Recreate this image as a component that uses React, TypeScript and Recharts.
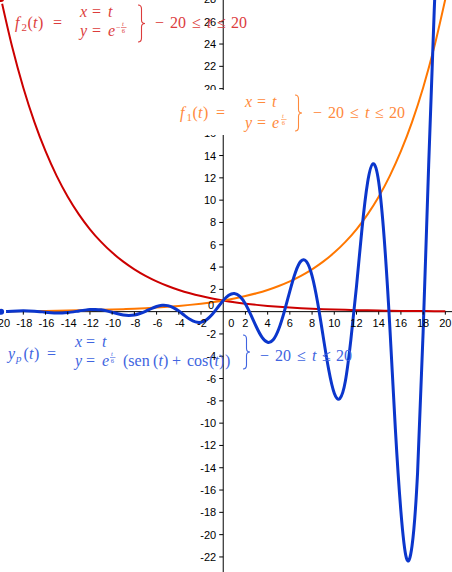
import React from 'react';
import { LineChart, Line, XAxis, YAxis, ReferenceLine, ReferenceDot } from 'recharts';

// parameter samples (t) and values
const tFine = [
  -20, -19.5, -19, -18.5, -18, -17.5, -17, -16.5, -16, -15.5, -15, -14.5, -14, -13.5, -13, -12.5, -12, -11.5, -11, -10.5,
  -10, -9.5, -9, -8.5, -8, -7.5, -7, -6.5, -6, -5.5, -5, -4.5, -4, -3.5, -3, -2.5, -2, -1.5, -1, -0.5,
  0, 0.5, 1, 1.5, 2, 2.5, 3, 3.5, 4, 4.5, 5, 5.5, 6, 6.5, 7, 7.5, 8, 8.5, 9, 9.5,
  10, 10.5, 11, 11.5, 12, 12.5, 13, 13.5, 14, 14.5, 15, 15.5, 16, 16.5, 17, 17.5, 18, 18.5, 19, 19.5, 20,
];
const ypValues = [
  -0.02, 0.01, 0.04, 0.06, 0.07, 0.06, 0.04, 0.0, -0.05, -0.09, -0.12, -0.12, -0.08, -0.02, 0.06, 0.13, 0.19, 0.2, 0.16, 0.07,
  -0.06, -0.19, -0.3, -0.34, -0.3, -0.17, 0.03, 0.26, 0.46, 0.57, 0.54, 0.36, 0.05, -0.33, -0.69, -0.92, -0.95, -0.72, -0.26, 0.37,
  1.0, 1.47, 1.63, 1.37, 0.69, -0.31, -1.4, -2.31, -2.75, -2.52, -1.55, 0.01, 1.85, 3.52, 4.53, 4.48, 3.2, 0.81, -2.24, -5.22,
  -7.32, -7.8, -6.23, -2.47, 2.27, 7.48, 11.59, 13.27, 11.63, 6.5, -1.33, -10.52, -17.93, -22.12, -21.02, -14.46, -1.82, 13.16, 27.02, 36.14, 37.03,
];
const tCoarse = [
  -20, -19, -18, -17, -16, -15, -14, -13, -12, -11, -10, -9, -8, -7, -6, -5, -4, -3, -2, -1,
  0, 1, 2, 3, 4, 5, 6, 7, 8, 9, 10, 11, 12, 13, 14, 15, 16, 17, 18, 19, 20,
];
const f1Values = [
  0.036, 0.042, 0.05, 0.059, 0.069, 0.082, 0.097, 0.115, 0.135, 0.16, 0.189, 0.223, 0.264, 0.311, 0.368, 0.435, 0.513, 0.607, 0.717, 0.846,
  1.0, 1.181, 1.396, 1.649, 1.948, 2.301, 2.718, 3.211, 3.794, 4.482, 5.294, 6.255, 7.389, 8.729, 10.312, 12.182, 14.392, 17.002, 20.086, 23.728, 28.032,
];
const f2Values = [
  28.032, 23.728, 20.086, 17.002, 14.392, 12.182, 10.312, 8.729, 7.389, 6.255, 5.294, 4.482, 3.794, 3.211, 2.718, 2.301, 1.948, 1.649, 1.396, 1.181,
  1.0, 0.846, 0.717, 0.607, 0.513, 0.435, 0.368, 0.311, 0.264, 0.223, 0.189, 0.16, 0.135, 0.115, 0.097, 0.082, 0.069, 0.059, 0.05, 0.042, 0.036,
];
const xTickValues = [-20, -18, -16, -14, -12, -10, -8, -6, -4, -2, 0, 2, 4, 6, 8, 10, 12, 14, 16, 18, 20];
const yTickValues = [-22, -20, -18, -16, -14, -12, -10, -8, -6, -4, -2, 0, 2, 4, 6, 8, 10, 12, 14, 16, 18, 20, 22, 24, 26, 28];

const ypData = tFine.map((t, i) => ({ t, y: ypValues[i] }));
const f1Data = tCoarse.map((t, i) => ({ t, y: f1Values[i] }));
const f2Data = tCoarse.map((t, i) => ({ t, y: f2Values[i] }));

const W = 452;
const H = 572;
const SANS = '"Liberation Sans", Arial, sans-serif';
const SERIF = '"Liberation Serif", "Times New Roman", serif';

const RED = '#cc0000';
const ORANGE = '#ff7700';
const BLUE = '#0b36cc';
const RED_T = '#dc3c3c';
const ORANGE_T = '#ff8a3c';
const BLUE_T = '#4064e0';

const XTick = ({ cx, cy, v }: { cx: number; cy: number; v: number }) => (
  <g>
    {v !== 0 && <line x1={cx} y1={cy} x2={cx} y2={cy + 3} stroke="#000" strokeWidth={1} />}
    <text x={v === 0 ? cx + 8 : cx + (v < 0 ? 1 : 0)} y={cy + 15} textAnchor="middle" fontFamily={SANS} fontSize={11} fill="#000">
      {String(v)}
    </text>
  </g>
);

const YTick = ({ cx, cy, v }: { cx: number; cy: number; v: number }) => (
  <g>
    {v !== 0 && <line x1={cx - 4} y1={cy} x2={cx} y2={cy} stroke="#000" strokeWidth={1} />}
    <text
      x={v === 0 ? cx - 9 : cx - 7}
      y={v === 0 ? cy - 3 : cy + 4}
      textAnchor="end"
      fontFamily={SANS}
      fontSize={11}
      fill="#000"
    >
      {String(v)}
    </text>
  </g>
);

const Tx = ({ x, y, c, s = 16, i = false, children }: any) => (
  <text x={x} y={y} fill={c} fontSize={s} fontStyle={i ? 'italic' : 'normal'} fontFamily={SERIF}>
    {children}
  </text>
);

const Brace = ({ x, y1, y2, c }: { x: number; y1: number; y2: number; c: string }) => {
  const ym = (y1 + y2) / 2;
  const d = `M ${x} ${y1} Q ${x + 3.5} ${y1} ${x + 3.5} ${y1 + 4} L ${x + 3.5} ${ym - 3.5} Q ${x + 3.5} ${ym} ${x + 7} ${ym} Q ${x + 3.5} ${ym} ${x + 3.5} ${ym + 3.5} L ${x + 3.5} ${y2 - 4} Q ${x + 3.5} ${y2} ${x} ${y2}`;
  return <path d={d} fill="none" stroke={c} strokeWidth={1.1} />;
};

const Frac = ({ x, base, c, minus = false }: { x: number; base: number; c: string; minus?: boolean }) => {
  const fx = minus ? x + 5 : x;
  return (
    <g>
      {minus && <Tx x={x} y={base - 6} c={c} s={8}>−</Tx>}
      <Tx x={fx + 1} y={base - 10} c={c} s={6.5} i>t</Tx>
      <line x1={fx} y1={base - 8.5} x2={fx + 5.5} y2={base - 8.5} stroke={c} strokeWidth={0.6} />
      <Tx x={fx + 0.8} y={base - 3} c={c} s={6.5}>6</Tx>
    </g>
  );
};

const Range = ({ x, y, c, xs }: { x: number; y: number; c: string; xs: number[] }) => (
  <g>
    <Tx x={x + xs[0]} y={y} c={c}>−</Tx>
    <Tx x={x + xs[1]} y={y} c={c}>20</Tx>
    <Tx x={x + xs[2]} y={y} c={c}>≤</Tx>
    <Tx x={x + xs[3]} y={y} c={c} i>t</Tx>
    <Tx x={x + xs[4]} y={y} c={c}>≤</Tx>
    <Tx x={x + xs[5]} y={y} c={c}>20</Tx>
  </g>
);
const RANGE_XS = [0, 15, 37, 52, 62, 76];

const Labels = () => (
  <svg width={W} height={H} style={{ position: 'absolute', left: 0, top: 0, pointerEvents: 'none' }}>
    {/* f2 label */}
    <g>
      <Tx x={15} y={28} c={RED_T} i>f</Tx>
      <Tx x={21.5} y={31} c={RED_T} s={11}>2</Tx>
      <Tx x={27.5} y={28} c={RED_T}>(</Tx>
      <Tx x={33} y={28} c={RED_T} i>t</Tx>
      <Tx x={38} y={28} c={RED_T}>)</Tx>
      <Tx x={53} y={28} c={RED_T}>=</Tx>
      <Tx x={80} y={17} c={RED_T} i>x</Tx>
      <Tx x={92} y={17} c={RED_T}>=</Tx>
      <Tx x={108} y={17} c={RED_T} i>t</Tx>
      <Tx x={80} y={36} c={RED_T} i>y</Tx>
      <Tx x={92} y={36} c={RED_T}>=</Tx>
      <Tx x={108} y={36} c={RED_T} i>e</Tx>
      <Frac x={116} base={36} c={RED_T} minus />
      <Brace x={138} y1={5} y2={42} c={RED_T} />
      <Range x={155} y={28} c={RED_T} xs={RANGE_XS} />
    </g>
    {/* f1 label */}
    <g>
      <rect x={172} y={90} width={233} height={45} fill="#fff" />
      <Tx x={180} y={118} c={ORANGE_T} i>f</Tx>
      <Tx x={186.5} y={121} c={ORANGE_T} s={11}>1</Tx>
      <Tx x={192.5} y={118} c={ORANGE_T}>(</Tx>
      <Tx x={198} y={118} c={ORANGE_T} i>t</Tx>
      <Tx x={203} y={118} c={ORANGE_T}>)</Tx>
      <Tx x={216} y={118} c={ORANGE_T}>=</Tx>
      <Tx x={245} y={107} c={ORANGE_T} i>x</Tx>
      <Tx x={257} y={107} c={ORANGE_T}>=</Tx>
      <Tx x={272} y={107} c={ORANGE_T} i>t</Tx>
      <Tx x={245} y={128} c={ORANGE_T} i>y</Tx>
      <Tx x={257} y={128} c={ORANGE_T}>=</Tx>
      <Tx x={272} y={128} c={ORANGE_T} i>e</Tx>
      <Frac x={281} base={128} c={ORANGE_T} />
      <Brace x={295} y1={95} y2={131} c={ORANGE_T} />
      <Range x={313} y={118} c={ORANGE_T} xs={RANGE_XS} />
    </g>
    {/* yp label */}
    <g>
      <Tx x={8} y={359} c={BLUE_T} i>y</Tx>
      <Tx x={16} y={362} c={BLUE_T} s={11} i>p</Tx>
      <Tx x={23.5} y={359} c={BLUE_T}>(</Tx>
      <Tx x={29} y={359} c={BLUE_T} i>t</Tx>
      <Tx x={34} y={359} c={BLUE_T}>)</Tx>
      <Tx x={47} y={359} c={BLUE_T}>=</Tx>
      <Tx x={75} y={347} c={BLUE_T} i>x</Tx>
      <Tx x={86} y={347} c={BLUE_T}>=</Tx>
      <Tx x={102} y={347} c={BLUE_T} i>t</Tx>
      <Tx x={75} y={366} c={BLUE_T} i>y</Tx>
      <Tx x={86} y={366} c={BLUE_T}>=</Tx>
      <Tx x={102} y={366} c={BLUE_T} i>e</Tx>
      <Frac x={110} base={366} c={BLUE_T} />
      <Tx x={123} y={366} c={BLUE_T}>(sen</Tx>
      <Tx x={153} y={366} c={BLUE_T}>(</Tx>
      <Tx x={158.5} y={366} c={BLUE_T} i>t</Tx>
      <Tx x={163} y={366} c={BLUE_T}>)</Tx>
      <Tx x={172} y={366} c={BLUE_T}>+</Tx>
      <Tx x={187} y={366} c={BLUE_T}>cos</Tx>
      <Tx x={209} y={366} c={BLUE_T}>(</Tx>
      <Tx x={214.5} y={366} c={BLUE_T} i>t</Tx>
      <Tx x={219} y={366} c={BLUE_T}>)</Tx>
      <Tx x={225} y={366} c={BLUE_T}>)</Tx>
      <Brace x={243} y1={335} y2={369} c={BLUE_T} />
      <Range x={260} y={361} c={BLUE_T} xs={RANGE_XS} />
    </g>
  </svg>
);

export default function App() {
  return (
    <div style={{ position: 'absolute', left: 0, top: 0, width: W, height: H, background: '#fff', overflow: 'hidden' }}>
      <LineChart width={W} height={H} margin={{ top: 0, right: 0, bottom: 0, left: 0 }}>
        <XAxis type="number" dataKey="t" domain={[-20.1, 20.6]} allowDataOverflow hide />
        <YAxis type="number" domain={[-23.35, 27.95]} allowDataOverflow hide />
        <ReferenceLine x={0} stroke="#000" strokeWidth={1} />
        <ReferenceLine y={0} stroke="#000" strokeWidth={1} />
        {xTickValues.map((v) => (
          <ReferenceDot
            key={'x' + v}
            x={v}
            y={0}
            r={0}
            ifOverflow="visible"
            shape={(p: any) => <XTick cx={p.cx} cy={p.cy} v={v} />}
          />
        ))}
        {yTickValues
          .filter((v) => v !== 0)
          .map((v) => (
            <ReferenceDot
              key={'y' + v}
              x={0}
              y={v}
              r={0}
              ifOverflow="visible"
              shape={(p: any) => <YTick cx={p.cx} cy={p.cy} v={v} />}
            />
          ))}
        <ReferenceDot x={0} y={0} r={0} ifOverflow="visible" shape={(p: any) => <YTick cx={p.cx} cy={p.cy} v={0} />} />
        <Line data={f2Data} dataKey="y" type="monotone" stroke={RED} strokeWidth={2} dot={false} isAnimationActive={false} />
        <Line data={f1Data} dataKey="y" type="monotone" stroke={ORANGE} strokeWidth={2} dot={false} isAnimationActive={false} />
        <Line data={ypData} dataKey="y" type="natural" stroke={BLUE} strokeWidth={3} dot={false} isAnimationActive={false} />
      </LineChart>
      <Labels />
    </div>
  );
}
